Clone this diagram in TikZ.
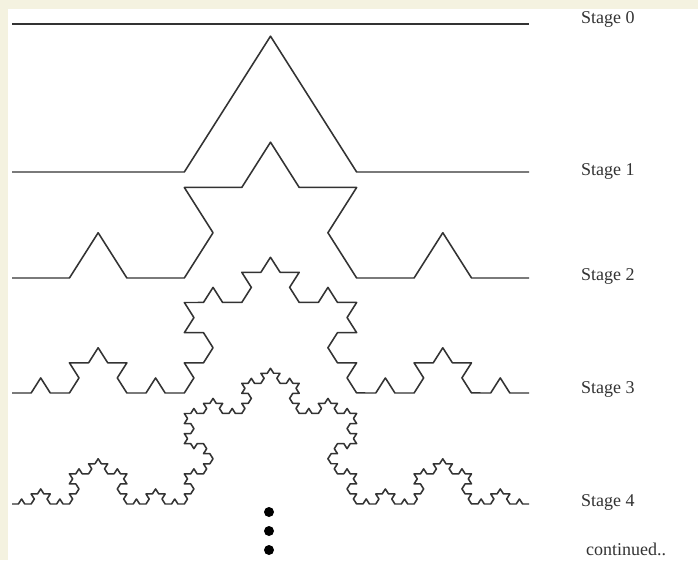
\documentclass[tikz,border=0pt]{standalone}
\usepackage{fontspec}
\setmainfont{Liberation Serif}
\usepackage{xcolor}
\definecolor{paper}{HTML}{F4F2E0}
\definecolor{ink}{HTML}{333333}
\usetikzlibrary{decorations.fractals}

\begin{document}
\begin{tikzpicture}[
  x=1pt,y=-1pt,
  kochline/.style={draw=ink,line width=1.6pt,line join=round,decoration=Koch snowflake},
  stagelabel/.style={anchor=west,inner sep=0pt,text=ink,font=\fontsize{18}{18}\selectfont},
  contdot/.style={circle,fill=black,inner sep=0pt,minimum size=10pt}
]

% page with the cream edge
\fill[paper] (0,0) rectangle (698,560);
\fill[white] (8,9) rectangle (698,560);
\useasboundingbox (0,0) rectangle (698,560);

% the five stages, squashed a little in height as in the book
\begin{scope}[transform canvas={yscale=0.91}]
  \path[kochline] (12,{24/0.91}) -- (529,{24/0.91});
  \path[kochline] decorate{ (12,{172/0.91}) -- (529,{172/0.91}) };
  \path[kochline] decorate{ decorate{ (12,{278/0.91}) -- (529,{278/0.91}) } };
  \path[kochline] decorate{ decorate{ decorate{ (12,{393/0.91}) -- (529,{393/0.91}) } } };
  \path[kochline] decorate{ decorate{ decorate{ decorate{ (12,{504/0.91}) -- (529,{504/0.91}) } } } };
\end{scope}

\node[stagelabel] (s0) at (581,19)  {Stage 0};
\node[stagelabel] (s1) at (581,171) {Stage 1};
\node[stagelabel] (s2) at (581,276) {Stage 2};
\node[stagelabel] (s3) at (581,389) {Stage 3};
\node[stagelabel] (s4) at (581,502) {Stage 4};
\node[stagelabel] (cont) at (586,549) {continued..};

\node[contdot] (d1) at (269,512) {};
\node[contdot] (d2) at (269,531) {};
\node[contdot] (d3) at (269,550) {};

\end{tikzpicture}
\end{document}
